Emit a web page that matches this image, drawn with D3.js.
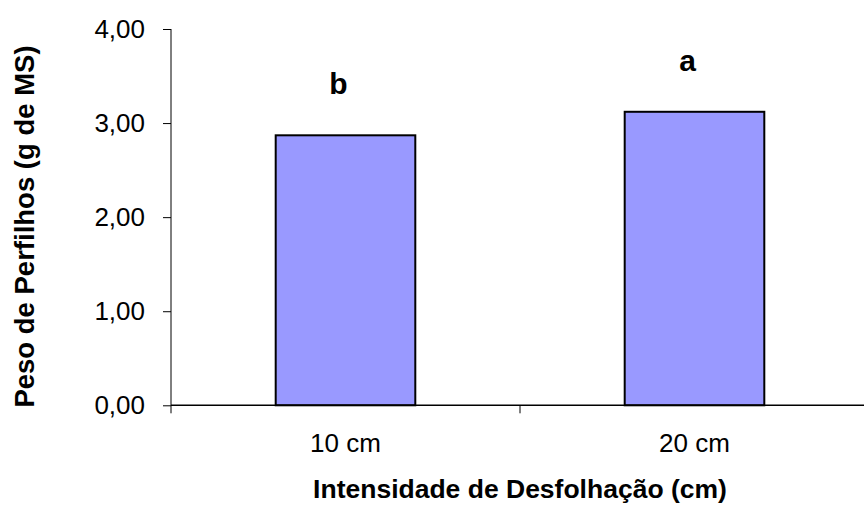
<!DOCTYPE html>
<html>
<head>
<meta charset="utf-8">
<script src="https://cdn.jsdelivr.net/npm/d3@7"></script>
<style>
  body { margin: 0; background: #fff; }
  text { font-family: Arial, "Liberation Sans", sans-serif; fill: #000; }
</style>
</head>
<body>
<div id="chart"></div>
<script>
var categories = ['10 cm', '20 cm'];
var values = [2.87, 3.12];
var letters = ['b', 'a'];
var yTicks = [0, 1, 2, 3, 4];

var width = 864, height = 506;
var x0 = 171, x1 = 869, yBottom = 405.3, yTop = 29;

var svg = d3.select('#chart')
	.append('svg')
	.attr('width', width)
	.attr('height', height);

var x = d3.scaleBand()
	.domain(categories)
	.range([x0, x1])
	.paddingInner(0.6)
	.paddingOuter(0.3);

var y = d3.scaleLinear()
	.domain([0, 4])
	.range([yBottom, yTop]);

// bars
svg.append('g')
	.selectAll('rect')
	.data(values)
	.enter()
	.append('rect')
	.attr('x', function (d, i) { return x(categories[i]); })
	.attr('y', function (d) { return y(d); })
	.attr('width', x.bandwidth())
	.attr('height', function (d) { return y(0) - y(d); })
	.attr('fill', '#9999ff')
	.attr('stroke', '#000')
	.attr('stroke-width', 2);

// significance letters
svg.append('g')
	.selectAll('text')
	.data(values)
	.enter()
	.append('text')
	.attr('x', function (d, i) { return x(categories[i]) + x.bandwidth() / 2 - 7; })
	.attr('y', function (d) { return y(d) - 41; })
	.attr('text-anchor', 'middle')
	.style('font-size', '30px')
	.style('font-weight', 'bold')
	.text(function (d, i) { return letters[i]; });

// y axis
var yAxis = d3.axisLeft(y)
	.tickValues(yTicks)
	.tickSize(8)
	.tickPadding(18)
	.tickFormat(function (d) { return d3.format('.2f')(d).replace('.', ','); });

var gy = svg.append('g')
	.attr('transform', 'translate(' + x0 + ',0)')
	.call(yAxis);
gy.select('.domain').attr('stroke', '#000').attr('d', 'M0,' + yTop + 'V' + yBottom);
gy.selectAll('.tick line').attr('stroke', '#000');
gy.selectAll('.tick text')
	.style('font-size', '26px')
	.style('font-family', 'Arial, "Liberation Sans", sans-serif');

// x axis line with category boundary ticks
var gx = svg.append('g');
gx.append('line')
	.attr('x1', x0).attr('x2', x1)
	.attr('y1', yBottom).attr('y2', yBottom)
	.attr('stroke', '#000')
	.attr('stroke-width', 1.5);
var bounds = [x0].concat(categories.map(function (c) { return x(c) + x.bandwidth() + x.step() * 0.3; }));
gx.selectAll('line.tk')
	.data(bounds)
	.enter()
	.append('line')
	.attr('class', 'tk')
	.attr('x1', function (d) { return d; })
	.attr('x2', function (d) { return d; })
	.attr('y1', yBottom)
	.attr('y2', yBottom + 8)
	.attr('stroke', '#000');
gx.selectAll('text')
	.data(categories)
	.enter()
	.append('text')
	.attr('x', function (d) { return x(d) + x.bandwidth() / 2; })
	.attr('y', 452)
	.attr('text-anchor', 'middle')
	.style('font-size', '26px')
	.text(function (d) { return d; });

// axis titles
svg.append('text')
	.attr('x', 520)
	.attr('y', 498)
	.attr('text-anchor', 'middle')
	.style('font-size', '26.5px')
	.style('font-weight', 'bold')
	.text('Intensidade de Desfolhação (cm)');

svg.append('text')
	.attr('transform', 'translate(34,226.5) rotate(-90)')
	.attr('text-anchor', 'middle')
	.style('font-size', '27.5px')
	.style('font-weight', 'bold')
	.text('Peso de Perfilhos (g de MS)');
</script>
</body>
</html>
